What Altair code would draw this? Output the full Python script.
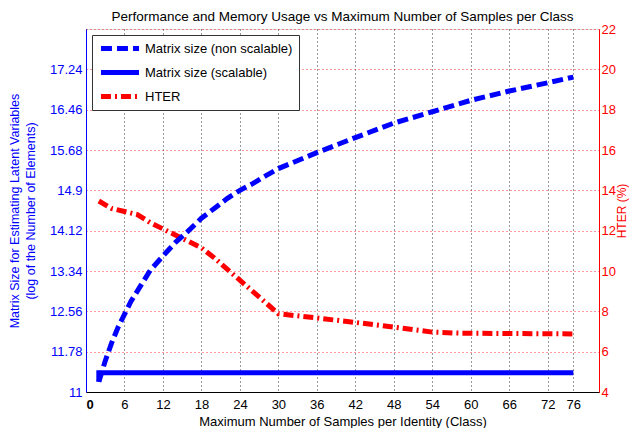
import altair as alt
import pandas as pd

# ---- data ----
ns_x = [2, 3, 4, 5, 6, 7, 8, 10, 12, 14, 16, 18, 20, 22, 24, 26, 28, 30, 36, 42, 48, 54, 60, 66, 72, 76]
ns_y = [11.2, 11.6, 11.95, 12.25, 12.5, 12.75, 12.95, 13.35, 13.63, 13.9, 14.12, 14.36, 14.55, 14.74,
        14.9, 15.03, 15.18, 15.32, 15.63, 15.92, 16.2, 16.42, 16.64, 16.82, 16.98, 17.09]
sc_x = [2, 2, 76]
sc_y = [11.2, 11.37, 11.37]
hter_x = [2, 4, 6, 8, 10, 18, 20, 30, 36, 42, 48, 54, 58, 66, 76]
hter_y = [13.47, 13.1, 12.95, 12.8, 12.4, 11.15, 10.65, 7.88, 7.67, 7.45, 7.22, 6.97, 6.92, 6.9, 6.88]

names = ["Matrix size (non scalable)", "Matrix size (scalable)", "HTER"]
x_ticks = [0, 6, 12, 18, 24, 30, 36, 42, 48, 54, 60, 66, 72, 76]
left_ticks = [11, 11.78, 12.56, 13.34, 14.12, 14.9, 15.68, 16.46, 17.24]
right_ticks = [4, 6, 8, 10, 12, 14, 16, 18, 20, 22]

FONT = "Liberation Sans"
FS = 13

df_ns = pd.DataFrame({"x": ns_x, "y": ns_y, "series": names[0], "i": range(len(ns_x))})
df_sc = pd.DataFrame({"x": sc_x, "y": sc_y, "series": names[1], "i": range(len(sc_x))})
df_h = pd.DataFrame({"x": hter_x, "y": hter_y, "series": names[2], "i": range(len(hter_x))})
left_df = pd.concat([df_ns, df_sc], ignore_index=True)

leg = alt.Legend(
    orient="none", legendX=6, legendY=6, symbolType="stroke", symbolSize=1450,
    clipHeight=15, labelFontSize=FS, labelFont=FONT, labelColor="black", strokeColor="#333333",
    fillColor="white", padding=6, rowPadding=9, labelOffset=3, labelLimit=400,
)

color = alt.Color("series:N", scale=alt.Scale(domain=names, range=["#0000ff", "#0000ff", "#ff0000"]),
                  legend=leg, title=None)
dash = alt.StrokeDash("series:N", scale=alt.Scale(domain=names, range=[[11, 5], [1, 0], [10, 4, 2, 4]]),
                      legend=leg, title=None)
sw = alt.StrokeWidth("series:N", scale=alt.Scale(domain=names, range=[5, 5, 3]), legend=leg, title=None)

x_enc = alt.X(
    "x:Q", scale=alt.Scale(domain=[0, 80], nice=False),
    axis=alt.Axis(values=x_ticks, title="Maximum Number of Samples per Identity (Class)",
                  grid=True, gridColor="black", gridDash=[1, 3], gridOpacity=0.8,
                  domainColor="black", ticks=False, labelColor="black", labelFont=FONT,
                  labelFontSize=FS, labelPadding=6,
                  labelFontWeight=alt.condition("datum.value == 0", alt.value("bold"), alt.value("normal")),
                  titleFont=FONT, titleFontSize=13, titleFontWeight="normal", titleColor="black",
                  titlePadding=4),
)

left = alt.Chart(left_df).mark_line(strokeCap="butt", clip=True).encode(
    x=x_enc,
    y=alt.Y("y:Q", scale=alt.Scale(domain=[11, 18.02], nice=False, zero=False),
            axis=alt.Axis(values=left_ticks, labelExpr="'' + datum.value", orient="left", grid=False,
                          domainColor="#0000ff", ticks=False, labelColor="#0000ff", labelFont=FONT,
                          labelFontSize=FS, labelPadding=4,
                          title=["Matrix Size for Estimating Latent Variables", "(log of the Number of Elements)"],
                          titleColor="#0000ff", titleFont=FONT, titleFontSize=12.5, titleFontWeight="normal",
                          titleLineHeight=16, titlePadding=12)),
    color=color, strokeDash=dash, strokeWidth=sw, order="i:Q",
)

right = alt.Chart(df_h).mark_line(strokeCap="butt", clip=True).encode(
    x=x_enc,
    y=alt.Y("y:Q", scale=alt.Scale(domain=[4, 22], nice=False, zero=False),
            axis=alt.Axis(values=right_ticks, orient="right", grid=True, gridColor="#ff0000",
                          gridDash=[1, 3], gridOpacity=0.8,
                          domainColor="#ff0000", ticks=False, labelColor="#ff0000", labelFont=FONT,
                          labelFontSize=FS, labelPadding=2, title="HTER (%)", titleAngle=270,
                          titleBaseline="top",
                          titleColor="#ff0000", titleFont=FONT, titleFontSize=12, titleFontWeight="normal",
                          titlePadding=1)),
    color=color, strokeDash=dash, strokeWidth=sw, order="i:Q",
)

chart = alt.layer(right, left).resolve_scale(y="independent").properties(
    width=513, height=363,
    autosize=alt.AutoSizeParams(type="none"),
    padding={"left": 78, "top": 21, "right": 33, "bottom": 36},
    title=alt.TitleParams("Performance and Memory Usage vs Maximum Number of Samples per Class",
                          font=FONT, fontSize=13.5, fontWeight="normal", color="black", offset=0),
).configure_view(stroke=None).configure(background="white")

chart.save("out.html", embed_options={"renderer": "svg", "actions": False})
